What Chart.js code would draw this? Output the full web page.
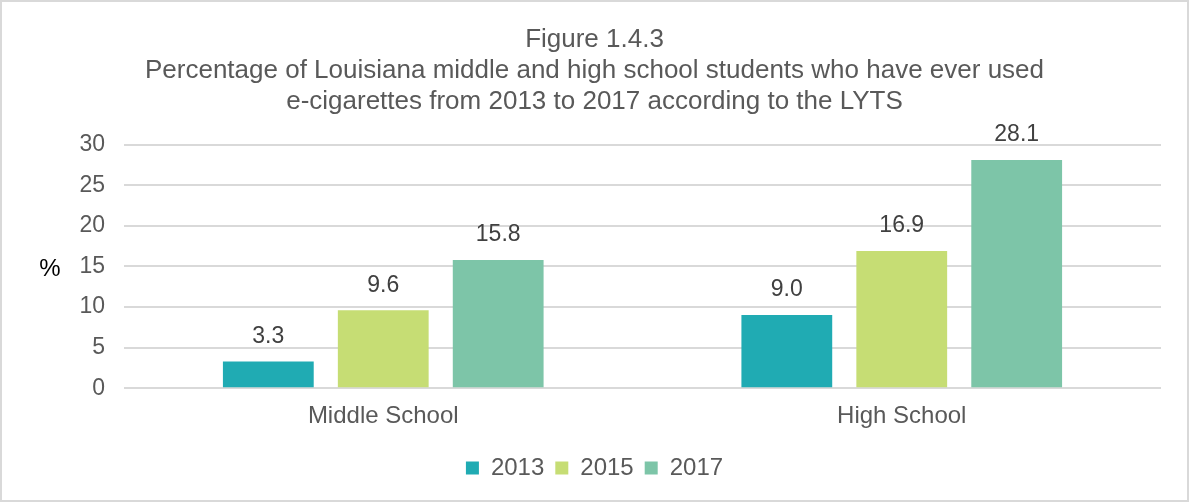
<!DOCTYPE html>
<html>
<head>
<meta charset="utf-8">
<script src="https://cdn.jsdelivr.net/npm/chart.js@4/dist/chart.umd.min.js"></script>
<style>
  html, body { margin: 0; padding: 0; background: #fff; }
  #wrap {
    width: 1189px; height: 502px; box-sizing: border-box;
    border: 2px solid #d9d9d9; position: relative;
  }
</style>
</head>
<body>
<div id="wrap"><canvas id="chart"></canvas></div>
<script>
const categories = ['Middle School', 'High School'];
const years = ['2013', '2015', '2017'];
const values2013 = [3.3, 9.0];
const values2015 = [9.6, 16.9];
const values2017 = [15.8, 28.1];
const yTicks = [0, 5, 10, 15, 20, 25, 30];

const colors = ['#20abb3', '#c6dd74', '#7dc5a8'];
const FONT = '"Liberation Sans", Arial, sans-serif';

// value labels above each bar plus the horizontal "%" axis caption
const barLabels = {
    id: 'barLabels',
    afterDatasetsDraw(chart) {
        const ctx = chart.ctx;
        ctx.save();
        ctx.font = '23px ' + FONT;
        ctx.fillStyle = '#404040';
        ctx.textAlign = 'center';
        ctx.textBaseline = 'middle';
        chart.data.datasets.forEach((ds, i) => {
            chart.getDatasetMeta(i).data.forEach((bar, j) => {
                ctx.fillText(ds.data[j].toFixed(1), bar.x, bar.y - 25);
            });
        });
        const area = chart.chartArea;
        ctx.font = '24px ' + FONT;
        ctx.fillStyle = '#000';
        ctx.fillText('%', 48, (area.top + area.bottom) / 2 + 3);
        ctx.restore();
    }
};

const ctx = document.getElementById('chart').getContext('2d');
new Chart(ctx, {
    type: 'bar',
    data: {
        labels: categories,
        datasets: [
            { label: years[0], data: values2013, backgroundColor: colors[0] },
            { label: years[1], data: values2015, backgroundColor: colors[1] },
            { label: years[2], data: values2017, backgroundColor: colors[2] }
        ]
    },
    options: {
        responsive: true,
        maintainAspectRatio: false,
        animation: false,
        categoryPercentage: 0.665,
        barPercentage: 0.79,
        layout: { padding: { left: 0, right: 0, top: 0, bottom: 10 } },
        plugins: {
            title: {
                display: true,
                text: [
                    'Figure 1.4.3',
                    'Percentage of Louisiana middle and high school students who have ever used',
                    'e-cigarettes from 2013 to 2017 according to the LYTS'
                ],
                color: '#595959',
                font: { family: FONT, size: 26, weight: 'normal', lineHeight: 1.2 },
                padding: { top: 22, bottom: 27 }
            },
            legend: {
                position: 'bottom',
                labels: {
                    color: '#595959',
                    font: { family: FONT, size: 24 },
                    boxWidth: 13,
                    boxHeight: 13,
                    padding: 11
                }
            },
            tooltip: { enabled: false }
        },
        scales: {
            x: {
                grid: { display: false, drawTicks: false },
                border: { display: false },
                ticks: { color: '#595959', font: { family: FONT, size: 24 }, padding: 14 }
            },
            y: {
                min: 0,
                max: 30,
                afterBuildTicks(scale) {
                    scale.ticks = yTicks.map(v => ({ value: v }));
                },
                afterFit(scale) { scale.width = 122; },
                grid: { color: '#d9d9d9', lineWidth: 2, drawTicks: false },
                border: { display: false },
                ticks: { color: '#595959', font: { family: FONT, size: 23 }, padding: 19 }
            },
            // empty right-hand gutter so the title and legend stay centred on the page
            gutter: {
                position: 'right',
                min: 0,
                max: 30,
                afterFit(scale) { scale.width = 26; },
                grid: { display: false, drawTicks: false },
                border: { display: false },
                ticks: { display: false }
            }
        }
    },
    plugins: [barLabels]
});
</script>
</body>
</html>
